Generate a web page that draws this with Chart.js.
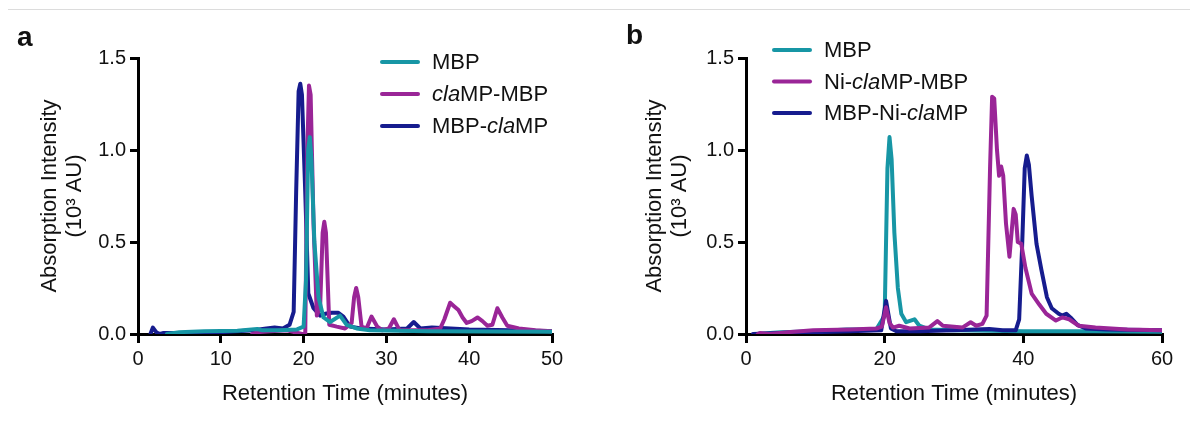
<!DOCTYPE html>
<html>
<head>
<meta charset="utf-8">
<script src="https://cdn.jsdelivr.net/npm/chart.js@4.4.1/dist/chart.umd.min.js"></script>
<style>
  html, body { margin: 0; padding: 0; background: #fff; }
  #wrap { position: relative; width: 1190px; height: 424px; overflow: hidden;
          font-family: "Liberation Sans", Arial, sans-serif; }
  #topRule { position: absolute; left: 8px; right: 0; top: 9px; height: 1px; background: #dcdcdc; }
  .panelTag { position: absolute; font-weight: bold; font-size: 28px; line-height: 1; color: #111; }
  canvas { position: absolute; top: 0; }
</style>
</head>
<body>
<div id="wrap">
  <div id="topRule"></div>
  <canvas id="chartA" width="595" height="424" style="left:0"></canvas>
  <canvas id="chartB" width="595" height="424" style="left:595px"></canvas>
  <div class="panelTag" style="left:17px;top:23px">a</div>
  <div class="panelTag" style="left:626px;top:21px">b</div>
</div>
<script>
const FONT = '"Liberation Sans", Arial, sans-serif';
const TEAL = "#1796a5";
const MAGENTA = "#9a2597";
const NAVY = "#161c8e";

// ---- panel a : retention time (min) / absorption (10^3 AU) ----
const X_TICKS_A = [0, 10, 20, 30, 40, 50];
const Y_TICKS = [0, 0.5, 1.0, 1.5];

const mbpA_t = [3.5, 5, 8, 12, 14.4, 15, 17, 19.2, 20.0, 20.3, 20.55, 20.75, 20.95, 21.3, 21.8, 22.4, 23.2, 24.4, 25.2, 26.4, 28, 35, 50];
const mbpA_y = [0.0, 0.01, 0.015, 0.018, 0.027, 0.02, 0.02, 0.025, 0.04, 0.3, 1.0, 1.07, 0.95, 0.5, 0.2, 0.09, 0.065, 0.1, 0.05, 0.03, 0.02, 0.015, 0.012];

const claMbpA_t = [13.8, 14.5, 16, 18, 19.8, 20.2, 20.45, 20.65, 20.85, 21.2, 21.6, 22.0, 22.3, 22.5, 22.7, 23.1, 24, 25, 25.8, 26.1, 26.35, 26.6, 27.0, 27.6, 28.2, 28.9, 29.5, 30.3, 30.9, 31.6, 33, 35, 36.5, 37.0, 37.7, 38.2, 38.7, 39.2, 39.7, 40.3, 41.0, 41.6, 42.2, 42.8, 43.4, 44.0, 44.6, 46, 48, 50];
const claMbpA_y = [0.0, 0.01, 0.015, 0.02, 0.0, 0.0, 1.0, 1.35, 1.3, 0.6, 0.1, 0.15, 0.55, 0.61, 0.55, 0.05, 0.04, 0.03, 0.06, 0.2, 0.25, 0.2, 0.04, 0.03, 0.095, 0.04, 0.02, 0.03, 0.08, 0.02, 0.02, 0.02, 0.03, 0.08, 0.17, 0.15, 0.13, 0.09, 0.06, 0.07, 0.09, 0.07, 0.045, 0.05, 0.14, 0.09, 0.045, 0.03, 0.02, 0.015];

const mbpClaA_t = [1.5, 1.8, 2.2, 2.6, 3, 5, 10, 14, 15.5, 16.5, 17.5, 18.3, 18.8, 19.1, 19.4, 19.6, 19.8, 20.2, 20.57, 21.2, 22.0, 22.6, 23.4, 24.2, 24.8, 25.6, 27, 30, 32.5, 33.3, 34.1, 35.5, 40, 45, 50];
const mbpClaA_y = [0.0, 0.035, 0.01, 0.0, 0.005, 0.005, 0.01, 0.02, 0.03, 0.035, 0.03, 0.05, 0.12, 0.77, 1.32, 1.36, 1.3, 0.77, 0.22, 0.14, 0.1, 0.11, 0.115, 0.115, 0.095, 0.04, 0.03, 0.025, 0.03, 0.065, 0.03, 0.035, 0.025, 0.02, 0.015];

const LEGEND_A = [
  [["MBP", false]],
  [["cla", true], ["MP-MBP", false]],
  [["MBP-", false], ["cla", true], ["MP", false]]
];

// ---- panel b ----
const X_TICKS_B = [0, 20, 40, 60];

const mbpB_t = [1.5, 5, 10, 14.5, 18.8, 20.0, 20.4, 20.7, 21.0, 21.4, 21.9, 22.4, 23.1, 24.3, 25, 26.4, 30, 40, 50, 60];
const mbpB_y = [0.0, 0.01, 0.015, 0.025, 0.025, 0.1, 0.9, 1.07, 0.95, 0.55, 0.25, 0.11, 0.064, 0.08, 0.045, 0.025, 0.02, 0.015, 0.015, 0.012];

const niClaMbpB_t = [1.7, 2.0, 3.4, 6, 9.7, 15, 18.8, 19.6, 20.2, 20.7, 21.2, 22.1, 23.6, 26.4, 27.6, 28.4, 31.2, 32.4, 33.2, 34.1, 34.7, 35.2, 35.5, 35.8, 36.2, 36.5, 36.8, 37.1, 37.5, 38.0, 38.3, 38.6, 38.9, 39.2, 39.7, 40.3, 41.2, 42.3, 43.3, 44.7, 45.6, 46.6, 48, 50.4, 55, 60];
const niClaMbpB_y = [0.0, 0.005, 0.0, 0.01, 0.02, 0.025, 0.03, 0.04, 0.145, 0.06, 0.035, 0.045, 0.03, 0.035, 0.07, 0.045, 0.035, 0.064, 0.045, 0.055, 0.1, 0.9, 1.29, 1.28, 1.0, 0.86, 0.91, 0.86, 0.6, 0.42, 0.55, 0.68, 0.65, 0.5, 0.49, 0.36, 0.22, 0.16, 0.11, 0.073, 0.09, 0.08, 0.045, 0.035, 0.025, 0.02];

const mbpNiClaB_t = [1, 5, 10, 15, 19.5, 20.2, 20.9, 21.7, 25, 30, 35.1, 37, 38.9, 39.4, 39.8, 40.2, 40.5, 40.8, 41.2, 41.9, 42.6, 43.4, 44.1, 45.1, 45.6, 46.2, 46.8, 47.8, 49, 52, 60];
const mbpNiClaB_y = [0.0, 0.005, 0.01, 0.015, 0.02, 0.18, 0.03, 0.015, 0.015, 0.02, 0.027, 0.02, 0.02, 0.08, 0.45, 0.9, 0.97, 0.92, 0.75, 0.49, 0.35, 0.2, 0.14, 0.11, 0.1, 0.11, 0.09, 0.05, 0.03, 0.025, 0.02];

const LEGEND_B = [
  [["MBP", false]],
  [["Ni-", false], ["cla", true], ["MP-MBP", false]],
  [["MBP-Ni-", false], ["cla", true], ["MP", false]]
];

function pts(ts, ys) {
  return ts.map((t, i) => ({ x: t, y: ys[i] }));
}

function series(label, color, ts, ys, order) {
  return {
    label,
    data: pts(ts, ys),
    borderColor: color,
    backgroundColor: color,
    borderWidth: 4,
    borderCapStyle: "round",
    borderJoinStyle: "round",
    pointRadius: 0,
    tension: 0,
    order,
  };
}

// legend drawn by hand so "cla" can be italic
const richLegend = {
  id: "richLegend",
  afterDatasetsDraw(chart, args, opts) {
    if (!opts || !opts.entries) return;
    const { ctx, chartArea } = chart;
    ctx.save();
    opts.entries.forEach((parts, i) => {
      const ds = chart.data.datasets[i];
      const x = chartArea.left + opts.left;
      const y = chartArea.top + opts.top + i * opts.spacing;
      ctx.strokeStyle = ds.borderColor;
      ctx.lineWidth = 4;
      ctx.lineCap = "round";
      ctx.beginPath();
      ctx.moveTo(x, y);
      ctx.lineTo(x + 36, y);
      ctx.stroke();
      let tx = x + 50;
      ctx.textBaseline = "middle";
      ctx.fillStyle = "#111";
      parts.forEach(([txt, italic]) => {
        ctx.font = (italic ? "italic " : "") + "22px " + FONT;
        ctx.fillText(txt, tx, y + 1);
        tx += ctx.measureText(txt).width;
      });
    });
    ctx.restore();
  },
};

function makeChart(canvas, datasets, xTicks, cfg) {
  return new Chart(canvas, {
    type: "line",
    data: { datasets },
    plugins: [richLegend],
    options: {
      responsive: false,
      animation: false,
      devicePixelRatio: 1,
      layout: { padding: { left: 0, top: 58, right: cfg.padRight, bottom: 0 } },
      plugins: {
        legend: { display: false },
        tooltip: { enabled: false },
        richLegend: cfg.legend,
      },
      scales: {
        x: {
          type: "linear",
          min: xTicks[0],
          max: xTicks[xTicks.length - 1],
          afterBuildTicks: (s) => { s.ticks = xTicks.map((v) => ({ value: v })); },
          afterFit: (s) => { s.height = 90; },
          grid: { drawOnChartArea: false, drawTicks: true, tickLength: 9, color: "#000", lineWidth: 3 },
          border: { display: true, color: "#000", width: 3 },
          ticks: { color: "#111", font: { family: FONT, size: 20 }, padding: 4, maxRotation: 0 },
          title: {
            display: true,
            text: "Retention Time (minutes)",
            color: "#111",
            font: { family: FONT, size: 22, lineHeight: 1.14 },
            padding: { top: 0, bottom: 18 },
          },
        },
        y: {
          min: 0,
          max: 1.5,
          afterBuildTicks: (s) => { s.ticks = Y_TICKS.map((v) => ({ value: v })); },
          afterFit: (s) => { s.width = cfg.yWidth; },
          grid: { drawOnChartArea: false, drawTicks: true, tickLength: 8, color: "#000", lineWidth: 3 },
          border: { display: true, color: "#000", width: 3 },
          ticks: {
            color: "#111",
            font: { family: FONT, size: 20 },
            padding: 4,
            callback: (v) => Number(v).toFixed(1),
          },
          title: {
            display: true,
            text: ["Absorption Intensity", "(10\u00B3 AU)"],
            color: "#111",
            font: { family: FONT, size: 22, lineHeight: 1.14 },
            padding: { top: cfg.yTitlePad, bottom: 0 },
          },
        },
      },
    },
  });
}

makeChart(
  document.getElementById("chartA"),
  [
    series("MBP", TEAL, mbpA_t, mbpA_y, 0),
    series("claMP-MBP", MAGENTA, claMbpA_t, claMbpA_y, 1),
    series("MBP-claMP", NAVY, mbpClaA_t, mbpClaA_y, 2),
  ],
  X_TICKS_A,
  { padRight: 43, yWidth: 138, yTitlePad: 37.5, legend: { entries: LEGEND_A, left: 244, top: 4, spacing: 32 } }
);

makeChart(
  document.getElementById("chartB"),
  [
    series("MBP", TEAL, mbpB_t, mbpB_y, 2),
    series("Ni-claMP-MBP", MAGENTA, niClaMbpB_t, niClaMbpB_y, 0),
    series("MBP-Ni-claMP", NAVY, mbpNiClaB_t, mbpNiClaB_y, 1),
  ],
  X_TICKS_B,
  { padRight: 28, yWidth: 151, yTitlePad: 47.5, legend: { entries: LEGEND_B, left: 28, top: -8, spacing: 31.5 } }
);
</script>
</body>
</html>
